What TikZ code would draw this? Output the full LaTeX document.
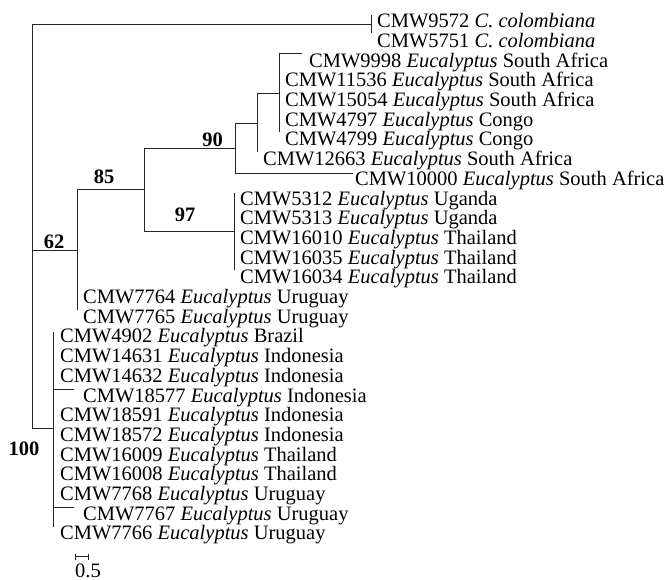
\documentclass[tikz,border=0pt]{standalone}
\usepackage{fontspec}
\setmainfont{Liberation Serif}
\begin{document}
\begin{tikzpicture}[x=1pt,y=-1pt,
  branch/.style={line width=0.9pt, black!85, line cap=rect},
  taxon/.style={anchor=base west, inner sep=0pt, font=\fontsize{20.5}{24}\selectfont},
  support/.style={anchor=base, inner sep=0pt, font=\fontsize{20.5}{24}\selectfont\bfseries},
]
\useasboundingbox (0,0) rectangle (666,580);

% ---- tree nodes ----
\coordinate (rootT) at (32,24);
\coordinate (rootB) at (32,428);
\coordinate (og) at (371,24);
\coordinate (ogT) at (371,15);
\coordinate (ogB) at (371,33);
\coordinate (r62) at (32,250);
\coordinate (n62) at (77,250);
\coordinate (n62T) at (77,189);
\coordinate (n62B) at (77,310);
\coordinate (n85) at (144,189);
\coordinate (n85T) at (144,148);
\coordinate (n85B) at (144,231.5);
\coordinate (n90) at (235,148);
\coordinate (n90T) at (235,123);
\coordinate (n90B) at (235,173);
\coordinate (t10000) at (353,173);
\coordinate (na) at (257,123);
\coordinate (naT) at (257,93);
\coordinate (naB) at (257,152);
\coordinate (nb) at (279,93);
\coordinate (nbT) at (279,53.5);
\coordinate (nbB) at (279,132);
\coordinate (t9998) at (302,53.5);
\coordinate (n97) at (234.5,231.5);
\coordinate (n97T) at (234.5,193);
\coordinate (n97B) at (234.5,270);
\coordinate (n100) at (53,428);
\coordinate (n100T) at (53,332);
\coordinate (n100B) at (53,527);
\coordinate (s18577) at (53,389);
\coordinate (t18577) at (74,389);
\coordinate (s7767) at (53,507);
\coordinate (t7767) at (74,507);

% ---- branches ----
\draw[branch] (rootT) -- (rootB);
\draw[branch] (rootT) -- (og);
\draw[branch] (ogT) -- (ogB);
\draw[branch] (r62) -- (n62);
\draw[branch] (n62T) -- (n62B);
\draw[branch] (n62T) -- (n85);
\draw[branch] (n85T) -- (n85B);
\draw[branch] (n85T) -- (n90);
\draw[branch] (n90T) -- (n90B);
\draw[branch] (n90B) -- (t10000);
\draw[branch] (n90T) -- (na);
\draw[branch] (naT) -- (naB);
\draw[branch] (naT) -- (nb);
\draw[branch] (nbT) -- (nbB);
\draw[branch] (nbT) -- (t9998);
\draw[branch] (n85B) -- (n97);
\draw[branch] (n97T) -- (n97B);
\draw[branch] (rootB) -- (n100);
\draw[branch] (n100T) -- (n100B);
\draw[branch] (s18577) -- (t18577);
\draw[branch] (s7767) -- (t7767);

% ---- support values ----
\node[support] (b62) at (54,248) {62};
\node[support] (b85) at (104,183) {85};
\node[support] (b97) at (185,221.5) {97};
\node[support] (b90) at (212.5,146.5) {90};
\node[support] (b100) at (24,455) {100};

% ---- taxa ----
\node[taxon] (L1) at (377,{27.7+19.7*0}) {CMW9572 \textit{C. colombiana}};
\node[taxon] (L2) at (377,{27.7+19.7*1}) {CMW5751 \textit{C. colombiana}};
\node[taxon] (L3) at (309,{27.7+19.7*2}) {CMW9998 \textit{Eucalyptus} South Africa};
\node[taxon] (L4) at (285,{27.7+19.7*3}) {CMW11536 \textit{Eucalyptus} South Africa};
\node[taxon] (L5) at (285,{27.7+19.7*4}) {CMW15054 \textit{Eucalyptus} South Africa};
\node[taxon] (L6) at (285,{27.7+19.7*5}) {CMW4797 \textit{Eucalyptus} Congo};
\node[taxon] (L7) at (285,{27.7+19.7*6}) {CMW4799 \textit{Eucalyptus} Congo};
\node[taxon] (L8) at (263,{27.7+19.7*7}) {CMW12663 \textit{Eucalyptus} South Africa};
\node[taxon] (L9) at (355,{27.7+19.7*8}) {CMW10000 \textit{Eucalyptus} South Africa};
\node[taxon] (L10) at (240,{27.7+19.7*9}) {CMW5312 \textit{Eucalyptus} Uganda};
\node[taxon] (L11) at (240,{27.7+19.7*10}) {CMW5313 \textit{Eucalyptus} Uganda};
\node[taxon] (L12) at (240,{27.7+19.7*11}) {CMW16010 \textit{Eucalyptus} Thailand};
\node[taxon] (L13) at (240,{27.7+19.7*12}) {CMW16035 \textit{Eucalyptus} Thailand};
\node[taxon] (L14) at (240,{27.7+19.7*13}) {CMW16034 \textit{Eucalyptus} Thailand};
\node[taxon] (L15) at (83,{27.7+19.7*14}) {CMW7764 \textit{Eucalyptus} Uruguay};
\node[taxon] (L16) at (83,{27.7+19.7*15}) {CMW7765 \textit{Eucalyptus} Uruguay};
\node[taxon] (L17) at (60,{27.7+19.7*16}) {CMW4902 \textit{Eucalyptus} Brazil};
\node[taxon] (L18) at (60,{27.7+19.7*17}) {CMW14631 \textit{Eucalyptus} Indonesia};
\node[taxon] (L19) at (60,{27.7+19.7*18}) {CMW14632 \textit{Eucalyptus} Indonesia};
\node[taxon] (L20) at (83,{27.7+19.7*19}) {CMW18577 \textit{Eucalyptus} Indonesia};
\node[taxon] (L21) at (60,{27.7+19.7*20}) {CMW18591 \textit{Eucalyptus} Indonesia};
\node[taxon] (L22) at (60,{27.7+19.7*21}) {CMW18572 \textit{Eucalyptus} Indonesia};
\node[taxon] (L23) at (60,{27.7+19.7*22}) {CMW16009 \textit{Eucalyptus} Thailand};
\node[taxon] (L24) at (60,{27.7+19.7*23}) {CMW16008 \textit{Eucalyptus} Thailand};
\node[taxon] (L25) at (60,{27.7+19.7*24}) {CMW7768 \textit{Eucalyptus} Uruguay};
\node[taxon] (L26) at (83,{27.7+19.7*25}) {CMW7767 \textit{Eucalyptus} Uruguay};
\node[taxon] (L27) at (60,{27.7+19.7*26}) {CMW7766 \textit{Eucalyptus} Uruguay};

% ---- scale bar ----
\coordinate (sbL) at (75,556.5);
\coordinate (sbR) at (88,556.5);
\draw[branch, line cap=butt] (sbL) -- (sbR);
\draw[branch, line width=0.7pt, line cap=butt] ([yshift=-3pt]sbL) -- ([yshift=3pt]sbL);
\draw[branch, line width=0.7pt, line cap=butt] ([yshift=-3pt]sbR) -- ([yshift=3pt]sbR);
\node[taxon] (sbT) at (75,577) {0.5};
\end{tikzpicture}
\end{document}
